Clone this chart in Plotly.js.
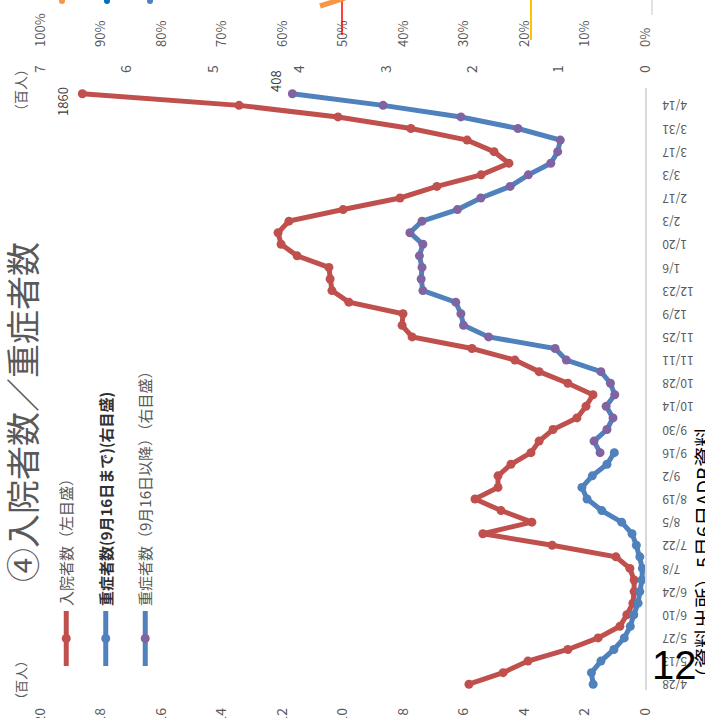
<!DOCTYPE html>
<html><head><meta charset="utf-8">
<script src="https://cdn.plot.ly/plotly-3.0.1.min.js"></script>
<style>
html,body{margin:0;padding:0;width:705px;height:718px;overflow:hidden;background:#fff;}
#chart{position:absolute;left:0;top:0;width:718px;height:705px;transform-origin:0 0;transform:translate(0px,718px) rotate(-90deg);}
</style></head><body><div id="chart"></div>
<script>
// ---- data (百人) ----
const categories = ["4/28","5/6","5/13","5/20","5/27","6/3","6/10","6/17","6/24","7/1","7/8","7/15","7/22","7/29","8/5","8/12","8/19","8/26","9/2","9/9","9/16","9/23","9/30","10/7","10/14","10/21","10/28","11/4","11/11","11/18","11/25","12/2","12/9","12/16","12/23","12/30","1/6","1/13","1/20","1/27","2/3","2/10","2/17","2/24","3/3","3/10","3/17","3/24","3/31","4/7","4/14","4/21"];
const tickLabels = ["4/28","5/13","5/27","6/10","6/24","7/8","7/22","8/5","8/19","9/2","9/16","9/30","10/14","10/28","11/11","11/25","12/9","12/23","1/6","1/20","2/3","2/17","3/3","3/17","3/31","4/14"];
const inpatients = [5.82,4.69,3.87,2.55,1.55,0.83,0.60,0.40,0.36,0.36,0.50,0.96,3.07,5.36,3.74,4.76,5.62,4.86,4.86,4.43,3.77,3.50,3.04,2.25,1.95,1.72,2.55,3.50,4.30,5.72,7.70,8.03,8.00,9.79,10.35,10.41,10.45,11.50,12.03,12.13,11.77,9.98,8.10,6.88,5.42,4.50,4.99,5.88,7.74,10.15,13.42,18.60];
const severeOld = [0.60,0.62,0.51,0.36,0.24,0.17,0.13,0.08,0.06,0.035,0.03,0.06,0.10,0.15,0.27,0.50,0.67,0.73,0.61,0.44,0.355];
const severeNew = [0.52,0.59,0.44,0.37,0.45,0.35,0.40,0.51,0.91,1.04,1.81,2.10,2.13,2.19,2.57,2.59,2.58,2.61,2.57,2.72,2.58,2.17,1.90,1.56,1.35,1.09,1.01,0.98,1.47,2.13,3.03,4.08];
const seriesNames = ["入院者数（左目盛）","重症者数(9月16日まで)(右目盛)","重症者数（9月16日以降）（右目盛）"];
const chartTitle = "④入院者数／重症者数";
const unitLabel = "（百人）";

// ---- geometry of the unrotated chart ----
const W=718,H=705,L=28,R=88,T=40,B=60;
const px = ox => (ox-L)/(W-L-R);
const py = oy => (H-B-oy)/(H-T-B);
const FONT = "Noto Sans CJK JP, sans-serif";
const GREY = "#595959";

const newStart = categories.length - severeNew.length;
const traces = [
 {x:categories, y:inpatients, type:'scatter', mode:'lines+markers', name:seriesNames[0], legendgroup:'a',
  line:{color:'#C0504D',width:5}, marker:{color:'#C0504D',size:9}},
 {x:categories.slice(0,severeOld.length), y:severeOld, type:'scatter', mode:'lines+markers', yaxis:'y2',
  name:'<b><span style="color:#303030">'+seriesNames[1]+'</span></b>', legendgroup:'b',
  line:{color:'#4F81BD',width:5}, marker:{color:'#4F81BD',size:9}},
 {x:categories.slice(newStart), y:severeNew, type:'scatter', mode:'lines+markers', yaxis:'y2',
  name:seriesNames[2], legendgroup:'c',
  line:{color:'#4F81BD',width:5}, marker:{color:'#8064A2',size:9}},
 {x:[], y:[], yaxis:'y3', type:'scatter', showlegend:false, hoverinfo:'skip'}
];

const last = categories.length-1;
const layout = {
 width:W, height:H, margin:{l:L,r:R,t:T,b:B}, paper_bgcolor:'#fff', plot_bgcolor:'rgba(0,0,0,0)',
 font:{family:FONT,color:GREY},
 title:{text:chartTitle, font:{size:34,color:GREY,family:FONT}, xref:'container', yref:'container',
   x:306/W, xanchor:'center', y:1-24/H, yanchor:'middle'},
 showlegend:true,
 legend:{x:px(47), xanchor:'left', y:py(50), yanchor:'top', bgcolor:'rgba(0,0,0,0)',
   font:{size:15,color:GREY,family:FONT}, itemwidth:55, tracegroupgap:17, traceorder:'grouped'},
 xaxis:{type:'category', categoryorder:'array', categoryarray:categories, range:[-0.5,categories.length-0.5],
   tickmode:'array', tickvals:tickLabels, ticktext:tickLabels, tickangle:-90,
   tickfont:{size:12,color:GREY}, showline:true, linecolor:'#D9D9D9', linewidth:1.5,
   showgrid:false, zeroline:false, ticks:'', ticklabelstandoff:11},
 yaxis:{range:[0,20], dtick:2, tickfont:{size:14,color:GREY}, showgrid:false, zeroline:false,
   showline:false, ticks:'', ticklabelstandoff:17},
 yaxis2:{overlaying:'y', side:'right', anchor:'x', range:[0,7], dtick:1, tickfont:{size:14,color:GREY},
   showgrid:false, zeroline:false, showline:false, ticks:'', ticklabelstandoff:14},
 yaxis3:{overlaying:'y', side:'right', anchor:'x', range:[0,1], dtick:0.1, tickformat:'.0%',
   tickfont:{size:13,color:GREY}, showgrid:false, zeroline:false, showline:false, ticks:'', ticklabelstandoff:40},
 annotations:[
  {xref:'paper',yref:'paper',x:px(38),y:py(20),text:unitLabel,showarrow:false,font:{size:13,color:GREY},xanchor:'center',yanchor:'middle'},
  {xref:'paper',yref:'paper',x:px(628),y:py(20),text:unitLabel,showarrow:false,font:{size:14,color:GREY},xanchor:'center',yanchor:'middle'},
  {xref:'x',yref:'y',x:categories[last],y:inpatients[last],text:String(Math.round(inpatients[last]*100)),
   showarrow:false,xshift:-8,yshift:20,font:{size:13,color:'#404040'}},
  {xref:'x',yref:'y2',x:categories[last],y:severeNew[severeNew.length-1],text:String(Math.round(severeNew[severeNew.length-1]*100)),
   showarrow:false,xshift:13,yshift:17,font:{size:13,color:'#404040'}},
  {xref:'paper',yref:'paper',x:px(53),y:py(674),text:'12',textangle:90,showarrow:false,
   font:{size:40,color:'#000',family:'Liberation Sans, sans-serif'},xanchor:'center',yanchor:'middle'},
  {xref:'paper',yref:'paper',x:px(28),y:py(703),text:'（資料出所）5月6日ADB資料',showarrow:false,
   font:{size:20,color:'#000'},xanchor:'left',yanchor:'middle'},
  {xref:'paper',yref:'paper',x:px(722),y:py(682),text:'4/28',textangle:-90,showarrow:false,
   font:{size:12,color:GREY},xanchor:'center',yanchor:'middle'}
 ],
 shapes:[
  {type:'line',xref:'paper',yref:'paper',x0:px(683),x1:px(720),y0:py(342),y1:py(342),line:{color:'#FF0000',width:1.5}},
  {type:'line',xref:'paper',yref:'paper',x0:px(678),x1:px(720),y0:py(531),y1:py(531),line:{color:'#FFC000',width:2}},
  {type:'line',xref:'paper',yref:'paper',x0:px(703),x1:px(720),y0:py(652),y1:py(652),line:{color:'#D9D9D9',width:1.5}},
  {type:'line',xref:'paper',yref:'paper',x0:px(712),x1:px(720),y0:py(320),y1:py(345),line:{color:'#F79646',width:5}},
  {type:'circle',xref:'paper',yref:'paper',x0:px(714),x1:px(720),y0:py(59),y1:py(65),fillcolor:'#F79646',line:{width:0}},
  {type:'circle',xref:'paper',yref:'paper',x0:px(714),x1:px(720),y0:py(104),y1:py(110),fillcolor:'#0070C0',line:{width:0}},
  {type:'circle',xref:'paper',yref:'paper',x0:px(714),x1:px(720),y0:py(147),y1:py(153),fillcolor:'#4F81BD',line:{width:0}}
 ]
};
Plotly.newPlot('chart', traces, layout, {displayModeBar:false, staticPlot:true});
</script></body></html>
